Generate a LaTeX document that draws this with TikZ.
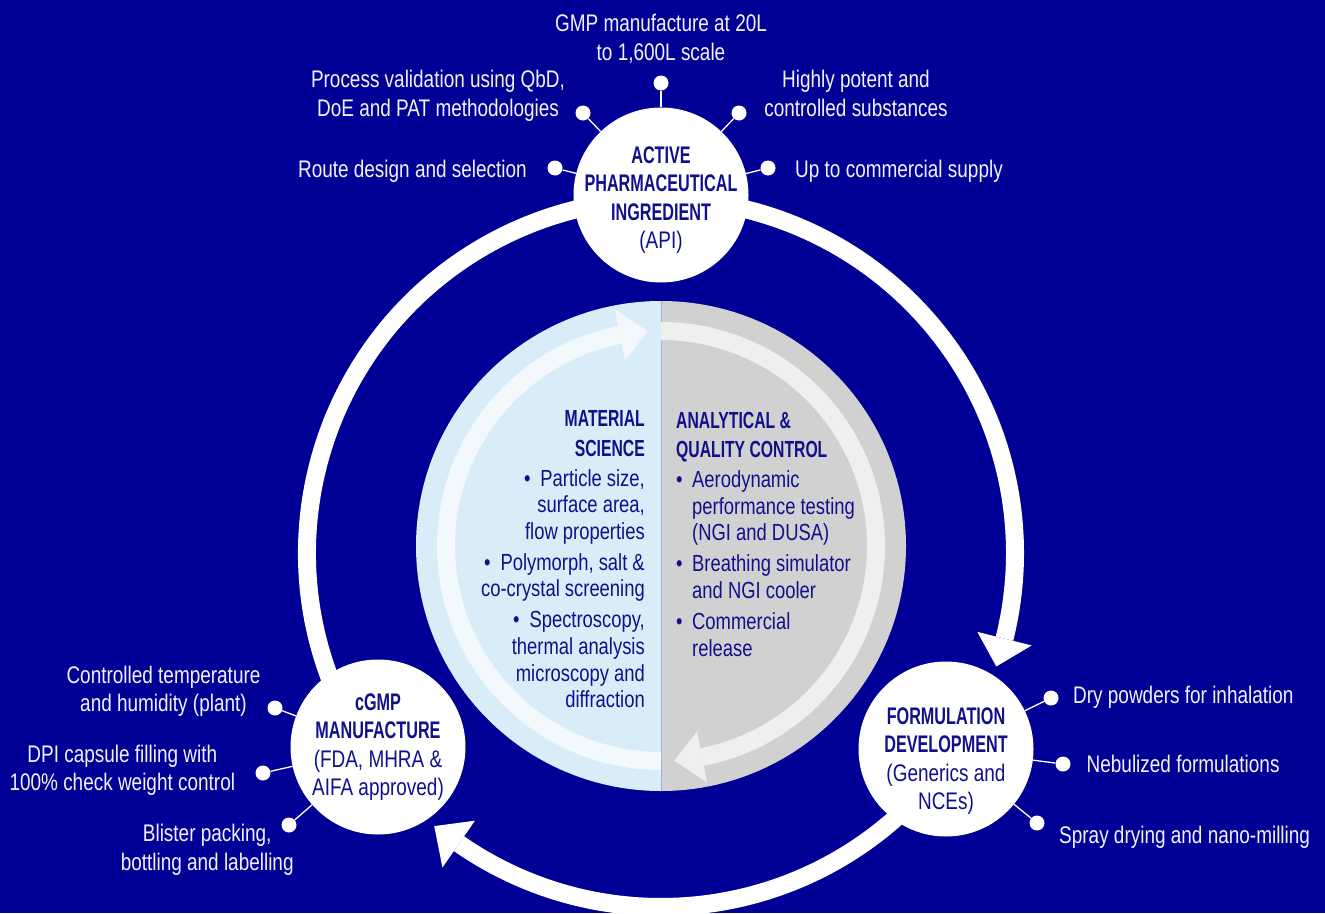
\documentclass[tikz,border=0pt]{standalone}
\usepackage{fontspec}
\setmainfont{Liberation Sans}[FakeStretch=0.79]
\newfontfamily\hdfam{Liberation Sans}[FakeStretch=0.675]
\newcommand\hdb{\hdfam\bfseries}
\newcommand\bul{\makebox[16pt][l]{•}}
\newcommand\ind{\hspace*{16pt}}
\definecolor{bg}{HTML}{000097}
\definecolor{navy}{HTML}{10108C}
\definecolor{ltblue}{HTML}{D8EDF8}
\definecolor{ltarc}{HTML}{F3F8FC}
\definecolor{gry}{HTML}{D1D1D1}
\definecolor{gryarc}{HTML}{EFEFEF}
\definecolor{divc}{HTML}{9FB3CF}
\definecolor{lbl}{HTML}{F2F2FA}
\tikzset{
  ring/.style={draw=white, line width=18},
  bigc/.style={circle, fill=white, inner sep=0, minimum size=175},
  dotn/.style={circle, fill=white, inner sep=0, minimum size=15},
  conn/.style={draw=white, line width=1.3},
  outlbl/.style={font={\fontsize{24}{28.4}\selectfont}, text=lbl, inner sep=0, align=center},
  circtxt/.style={font={\fontsize{24}{28.4}\selectfont}, text=navy, inner sep=0, align=center},
  innertxt/.style={font={\fontsize{23.3}{26.6}\selectfont}, text=navy, inner sep=0},
}
\begin{document}
\begin{tikzpicture}[x=1pt,y=1pt]
\useasboundingbox (0,0) rectangle (1325,-913);
\fill[bg] (0,0) rectangle (1325,-913);

% outer ring with arrows
\begin{scope}[shift={(661,-553)}]
  \draw[ring] (90:354) arc[start angle=90, end angle=-14, radius=354];
  \draw[ring] (-45:354) arc[start angle=-45, end angle=-124.8, radius=354];
  \draw[ring] (-150:354) arc[start angle=-150, end angle=-270, radius=354];
  \fill[white] (-14:326) -- (-14:382) -- (-18.7:354) -- cycle;
  \fill[white] (-124.8:326) -- (-124.8:383) -- (-129.7:355) -- cycle;
\end{scope}

% inner circle
\fill[ltblue] (661,-301) arc[start angle=90, end angle=270, radius=245] -- cycle;
\fill[gry] (661,-301) arc[start angle=90, end angle=-90, radius=245] -- cycle;
\draw[divc, line width=0.8] (661,-301) -- (661,-791);
\begin{scope}[shift={(661,-546)}]
  \draw[ltarc, line width=18] (-90:215) arc[start angle=-90, end angle=-259, radius=215];
  \fill[ltarc] (101:189) -- (101:241) -- (93.5:215) -- cycle;
  \draw[gryarc, line width=18] (90:215) arc[start angle=90, end angle=-79, radius=215];
  \fill[gryarc] (-79:189) -- (-79:241) -- (-86.5:215) -- cycle;
\end{scope}

% main circles
\node[bigc] (api) at (661,-195) {};
\node[bigc] (cgmp) at (378,-747) {};
\node[bigc] (form) at (946,-749) {};

% dots
\node[dotn] (a1) at (661,-83) {};
\node[dotn] (a2) at (583,-113) {};
\node[dotn] (a3) at (739,-113) {};
\node[dotn] (a4) at (555,-168) {};
\node[dotn] (a5) at (768,-168) {};
\node[dotn] (f1) at (1051,-698) {};
\node[dotn] (f2) at (1063,-764) {};
\node[dotn] (f3) at (1037,-823) {};
\node[dotn] (c1) at (275,-708) {};
\node[dotn] (c2) at (263,-773) {};
\node[dotn] (c3) at (289,-825) {};
\foreach \d in {a1,a2,a3,a4,a5} \draw[conn] (\d) -- (api);
\foreach \d in {f1,f2,f3} \draw[conn] (\d) -- (form);
\foreach \d in {c1,c2,c3} \draw[conn] (\d) -- (cgmp);

% circle texts (base = baseline of last line)
\node[circtxt, anchor=base] (apit) at (661,-248.5) {{\hdb ACTIVE}\\{\hdb PHARMACEUTICAL}\\{\hdb INGREDIENT}\\(API)};
\node[circtxt, anchor=base] (cgmpt) at (378,-795.5) {{\hdb cGMP}\\{\hdb MANUFACTURE}\\(FDA, MHRA \&\\AIFA approved)};
\node[circtxt, anchor=base] (formt) at (946,-809.5) {{\hdb FORMULATION}\\{\hdb DEVELOPMENT}\\(Generics and\\NCEs)};

% outer labels
\node[outlbl, anchor=base] (l1) at (661,-60) {GMP manufacture at 20L\\to 1,600L scale};
\node[outlbl, anchor=base] (l2) at (438,-116) {Process validation using QbD,\\DoE and PAT methodologies};
\node[outlbl, anchor=base] (l3) at (856,-116) {Highly potent and\\controlled substances};
\node[outlbl, anchor=base east] (l4) at (527,-177) {Route design and selection};
\node[outlbl, anchor=base west] (l5) at (795,-177) {Up to commercial supply};
\node[outlbl, anchor=base west] (l6) at (1073,-703) {Dry powders for inhalation};
\node[outlbl, anchor=base west] (l7) at (1086.5,-772.7) {Nebulized formulations};
\node[outlbl, anchor=base west] (l8) at (1059,-843) {Spray drying and nano-milling};
\node[outlbl, anchor=base] (l9) at (163.5,-711.7) {Controlled temperature\\and humidity (plant)};
\node[outlbl, anchor=base] (l10) at (122.3,-790.7) {DPI capsule filling with\\100\% check weight control};
\node[outlbl, anchor=base] (l11) at (207.2,-870) {Blister packing,\\bottling and labelling};

% inner texts
\node[innertxt, align=right, anchor=base east] (ms) at (645,-707.7) {{\hdb MATERIAL}\\[2.8pt]{\hdb SCIENCE}\\[3.4pt]•\hspace{10pt}Particle size,\\surface area,\\flow properties\\[4.4pt]•\hspace{10pt}Polymorph, salt \&\\co-crystal screening\\[4.4pt]•\hspace{10pt}Spectroscopy,\\thermal analysis\\microscopy and\\diffraction};
\node[innertxt, align=left, anchor=base west] (aq) at (676,-656) {{\hdb ANALYTICAL \&}\\[2.8pt]{\hdb QUALITY CONTROL}\\[3.4pt]\bul Aerodynamic\\\ind performance testing\\\ind (NGI and DUSA)\\[4.4pt]\bul Breathing simulator\\\ind and NGI cooler\\[4.4pt]\bul Commercial\\\ind release};
\end{tikzpicture}
\end{document}
